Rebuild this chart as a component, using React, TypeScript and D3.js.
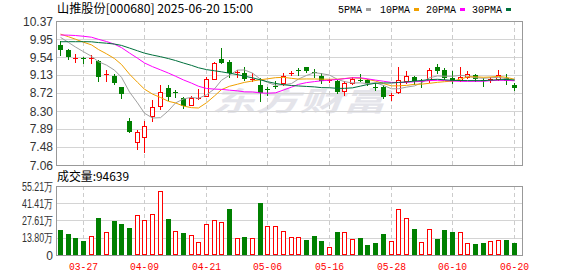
import React from 'react';
import * as d3 from 'd3';

// ---- data ----
const dates = [
  '03-24','03-25','03-26','03-27','03-28','03-31','04-01','04-02','04-03','04-07',
  '04-08','04-09','04-10','04-11','04-14','04-15','04-16','04-17','04-18','04-21',
  '04-22','04-23','04-24','04-25','04-28','04-29','04-30','05-06','05-07','05-08',
  '05-09','05-12','05-13','05-14','05-15','05-16','05-19','05-20','05-21','05-22',
  '05-23','05-26','05-27','05-28','05-29','05-30','06-03','06-04','06-05','06-06',
  '06-09','06-10','06-11','06-12','06-13','06-16','06-17','06-18','06-19','06-20'];
const opens = [
  9.82,9.70,9.52,9.52,9.50,9.46,9.14,9.11,8.85,8.08,
  7.60,7.70,8.19,8.42,8.82,8.73,8.61,8.44,8.57,8.65,
  9.04,9.50,9.43,9.19,9.17,9.03,8.90,8.81,8.88,8.94,
  9.16,9.24,9.31,9.20,9.11,8.98,8.99,8.76,8.94,9.02,
  9.01,8.85,8.86,8.64,8.73,8.98,9.08,8.99,9.01,9.32,
  9.24,9.07,9.01,9.09,9.13,9.02,9.03,9.04,9.07,8.91];
const highs = [
  9.91,9.73,9.61,9.55,9.59,9.47,9.24,9.15,8.86,8.13,
  7.87,8.08,8.55,8.90,8.90,8.78,8.63,8.65,8.80,9.09,
  9.43,9.76,9.47,9.24,9.31,9.17,9.05,8.86,8.98,9.17,
  9.21,9.28,9.32,9.26,9.17,9.03,9.01,8.99,9.08,9.15,
  9.04,8.94,8.90,8.71,9.31,9.21,9.11,9.04,9.28,9.38,
  9.28,9.21,9.32,9.22,9.15,9.05,9.09,9.24,9.15,8.94];
const lows = [
  9.59,9.49,9.43,9.40,9.40,9.00,9.00,8.92,8.59,7.81,
  7.42,7.35,8.08,8.34,8.55,8.63,8.36,8.43,8.57,8.65,
  9.03,9.41,9.09,9.09,9.01,9.00,8.52,8.67,8.82,8.90,
  9.13,9.12,9.19,9.09,8.94,8.97,8.71,8.67,8.92,8.98,
  8.90,8.78,8.59,8.55,8.71,8.94,8.92,8.86,8.96,9.17,
  9.04,8.94,8.99,9.05,8.99,8.88,8.96,9.01,8.92,8.79];
const closes = [
  9.70,9.54,9.53,9.51,9.51,9.08,9.15,8.95,8.69,7.82,
  7.83,7.96,8.40,8.73,8.62,8.72,8.42,8.59,8.61,9.03,
  9.40,9.41,9.17,9.20,9.04,9.04,8.71,8.80,8.87,9.11,
  9.17,9.23,9.21,9.19,9.00,9.01,8.73,8.95,9.04,9.01,
  8.92,8.84,8.63,8.66,9.01,9.11,8.98,8.98,9.24,9.23,
  9.07,8.98,9.09,9.15,9.04,9.01,9.04,9.13,8.99,8.82];
// volume, in 万 shares
const volumes = [
  20.0,16.8,13.6,11.2,15.0,29.6,18.4,27.2,24.8,21.6,
  31.7,27.7,32.8,51.2,28.8,18.9,17.6,15.7,10.4,24.8,
  27.7,26.4,36.8,13.6,14.4,13.3,41.6,22.9,22.9,18.9,
  14.1,14.1,12.0,15.2,11.2,6.1,18.4,18.4,12.5,13.6,
  8.0,9.6,16.8,11.2,36.5,29.3,20.8,10.1,20.5,12.8,
  20.0,18.4,18.1,9.3,8.8,9.6,11.2,11.7,12.0,9.4639];
// closes of the 29 sessions before the window (needed for the moving averages)
const prevCloses = [
  9.50,9.55,9.48,9.60,9.62,9.58,9.55,9.62,9.65,9.70,
  9.60,9.70,9.85,9.95,10.05,10.15,10.20,10.25,10.30,10.21,
  10.15,10.10,10.20,10.12,10.15,10.13,10.05,10.05,10.04];
const priceTickValues = [10.37,9.95,9.54,9.13,8.72,8.30,7.89,7.48,7.06];
const priceTickLabels = ['10.37','9.95','9.54','9.13','8.72','8.30','7.89','7.48','7.06'];
const volTickValues = [55.21,41.41,27.61,13.80,0];
const volTickLabels = ['55.21万','41.41万','27.61万','13.80万','0'];
const dateTicks = ['03-27','04-09','04-21','05-06','05-16','05-28','06-10','06-20'];
const maPeriods = [5,10,20,30];
const maNames = ['5PMA','10PMA','20PMA','30PMA'];
const title = '山推股份[000680] 2025-06-20 15:00';
const volLabel = '成交量:94639';
const watermark = '东方财富';

// ---- layout / style ----
const W = 578, H = 276;
const L = 56, R = 522;
const PT = 21, PB = 165;
const VT = 186, VB = 255;
const RED = '#ff0000', GREEN = '#008000';
const maColors = ['#a0a0a0', '#f0a000', '#ff00ff', '#00703c'];
const AXIS_FONT = '"Liberation Sans", Arial, sans-serif';
const CJK_FONT = '"Noto Sans CJK SC", "Liberation Sans", sans-serif';

export default function App() {
  const n = dates.length;
  const x = d3.scaleBand<number>().domain(d3.range(n)).range([L, L + n * 7.69]);
  const cx = (i: number) => Math.round((x(i) as number) + x.bandwidth() / 2);
  const yP = d3.scaleLinear().domain([7.06, 10.37]).range([PB, PT]);
  const yV = d3.scaleLinear().domain([0, 55.21]).range([VB, VT]);

  const all = prevCloses.concat(closes);
  const off = prevCloses.length;
  const maSeries = maPeriods.map((p) =>
    closes.map((_, i) => d3.mean(all.slice(i + off - p + 1, i + off + 1)) as number)
  );
  const line = d3.line<number>().x((_, i) => cx(i) + 0.5).y((v) => yP(v));

  const dateIdx = dateTicks.map((d) => dates.indexOf(d));

  const candles = closes.map((c, i) => {
    const o = opens[i], h = highs[i], l = lows[i];
    const X = cx(i);
    const up = c >= o;
    const col = up ? RED : GREEN;
    const yh = Math.round(yP(h)), yl = Math.round(yP(l));
    if (up) {
      const top = Math.round(yP(c)), bot = Math.round(yP(o));
      if (bot - top <= 1) {
        return (
          <g key={i}>
            <line x1={X + 0.5} x2={X + 0.5} y1={yh} y2={yl + 1} stroke={col} />
            <line x1={X - 2} x2={X + 3} y1={top + 0.5} y2={top + 0.5} stroke={col} />
          </g>
        );
      }
      return (
        <g key={i}>
          <line x1={X + 0.5} x2={X + 0.5} y1={yh} y2={top} stroke={col} />
          <line x1={X + 0.5} x2={X + 0.5} y1={bot + 1} y2={yl + 1} stroke={col} />
          <rect x={X - 1.5} y={top + 0.5} width={4} height={bot - top} fill="#fff" stroke={col} />
        </g>
      );
    }
    const top = Math.round(yP(o)), bot = Math.round(yP(c));
    return (
      <g key={i}>
        <line x1={X + 0.5} x2={X + 0.5} y1={yh} y2={yl + 1} stroke={col} />
        <rect x={X - 2} y={top} width={5} height={Math.max(bot - top, 1)} fill={col} />
      </g>
    );
  });

  const vbars = volumes.map((v, i) => {
    const upv = i === 0 ? closes[0] >= opens[0] : closes[i] >= closes[i - 1];
    const X = cx(i);
    const top = Math.round(yV(v));
    if (upv) {
      return <rect key={i} x={X - 1.5} y={top + 0.5} width={4} height={VB - top - 1} fill="#fff" stroke={RED} />;
    }
    return <rect key={i} x={X - 2} y={top} width={5} height={VB - top} fill={GREEN} />;
  });

  // legend positions
  const legendX = [338, 380, 426, 472];
  const legendW = [24, 30, 30, 30];

  return (
    <div style={{ position: 'absolute', left: 0, top: 0 }}>
      <svg width={W} height={H} style={{ display: 'block', background: '#fff' }}>
        <rect x={0} y={0} width={W} height={H} fill="#fff" />
        {/* title */}
        <text x={57} y={13} fontSize={12} fontFamily={CJK_FONT} fill="#000" textLength={196} lengthAdjust="spacingAndGlyphs">{title}</text>
        {/* legend */}
        {maNames.map((nm, k) => (
          <g key={nm}>
            <text x={legendX[k]} y={13} fontSize={11} fontFamily='"Liberation Mono", monospace' fill="#000" textLength={legendW[k]} lengthAdjust="spacingAndGlyphs">{nm}</text>
            <rect x={legendX[k] + legendW[k] + 4} y={8} width={5} height={3} fill={maColors[k]} />
          </g>
        ))}

        {/* watermark */}
        <text x={212} y={111} fontSize={27} fontWeight="bold" fontStyle="italic" fontFamily={CJK_FONT} fill="#e4e4ea" textLength={174} lengthAdjust="spacingAndGlyphs">{watermark}</text>

        {/* price grid */}
        {priceTickValues.map((v, k) => (
          <line key={'pg' + k} x1={L} x2={R} y1={Math.round(yP(v)) + 0.5} y2={Math.round(yP(v)) + 0.5} stroke="#d4d4d4" />
        ))}
        {volTickValues.map((v, k) => (
          <line key={'vg' + k} x1={L} x2={R} y1={Math.round(yV(v)) + 0.5} y2={Math.round(yV(v)) + 0.5} stroke="#d4d4d4" />
        ))}
        {dateIdx.map((i, k) => (
          <g key={'dg' + k}>
            <line x1={cx(i) + 0.5} x2={cx(i) + 0.5} y1={PT} y2={PB} stroke="#cccccc" strokeDasharray="4,3" />
            <line x1={cx(i) + 0.5} x2={cx(i) + 0.5} y1={VT} y2={VB} stroke="#cccccc" strokeDasharray="4,3" />
          </g>
        ))}

        {/* candles */}
        {candles}
        {/* moving averages */}
        {maSeries.map((s, k) => (
          <path key={'ma' + k} d={line(s) || ''} fill="none" stroke={maColors[k]} strokeWidth={1} />
        ))}

        {/* price frame */}
        <rect x={L + 0.5} y={PT + 0.5} width={R - L} height={PB - PT} fill="none" stroke="#999" />

        {/* price axis labels */}
        {priceTickValues.map((v, k) => (
          <text key={'pl' + k} x={53} y={yP(v) + 4.5} textAnchor="end" fontSize={12} fontFamily={AXIS_FONT} fill="#333">{priceTickLabels[k]}</text>
        ))}

        {/* volume */}
        <text x={57} y={181} fontSize={12} fontFamily={CJK_FONT} fill="#000" textLength={72} lengthAdjust="spacingAndGlyphs">{volLabel}</text>
        {vbars}
        <rect x={L + 0.5} y={VT + 0.5} width={R - L} height={VB - VT} fill="none" stroke="#999" />
        {volTickValues.map((v, k) => (
          <text key={'vl' + k} x={53} y={yV(v) + 4.5} textAnchor="end" fontSize={12} fontFamily={AXIS_FONT} fill="#333"
            {...(k < 4 ? { textLength: 31, lengthAdjust: 'spacingAndGlyphs' } : {})}>{volTickLabels[k]}</text>
        ))}

        {/* date labels */}
        {dateIdx.map((i, k) => (
          <text key={'dl' + k} x={cx(i) + 0.5} y={270} textAnchor="middle" fontSize={11} fontFamily='"Liberation Mono", monospace' fill={RED} textLength={29} lengthAdjust="spacingAndGlyphs">{dateTicks[k]}</text>
        ))}
      </svg>
    </div>
  );
}
